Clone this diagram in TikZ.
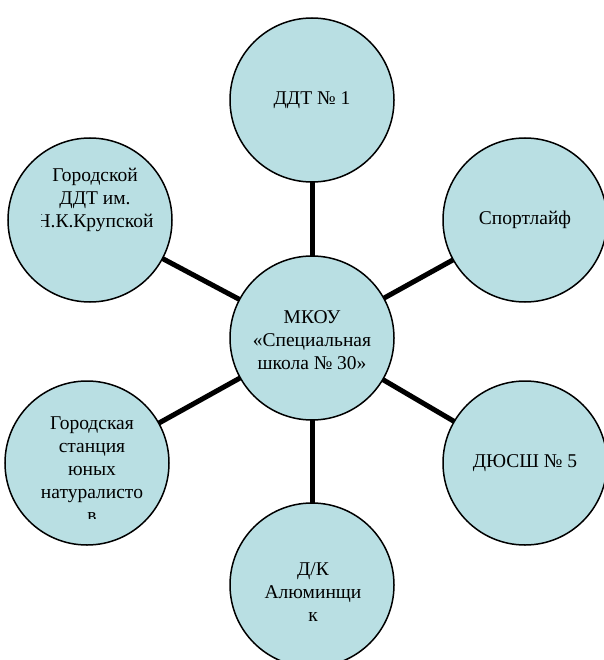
\documentclass[tikz,border=0pt]{standalone}
\usepackage{fontspec}
\setmainfont{Liberation Serif}
\definecolor{cfill}{HTML}{B9DFE3}
\begin{document}
\begin{tikzpicture}[x=1pt,y=-1pt,
  bub/.style={circle,draw=black,line width=1.5pt,fill=cfill,minimum size=164pt,inner sep=0pt,
    align=center,font=\fontsize{19.5}{23}\selectfont},
  txt/.style={align=center,font=\fontsize{19.5}{23}\selectfont,inner sep=0pt},
  spoke/.style={line width=5pt,black}]
\useasboundingbox (0,0) rectangle (603,660);
\coordinate (cC) at (312,338);
\coordinate (cT) at (312,100);
\coordinate (cTR) at (525,220);
\coordinate (cBR) at (525,463);
\coordinate (cB) at (312,585);
\coordinate (cBL) at (87,463);
\coordinate (cTL) at (90,220);
\draw[spoke] (cC) -- (cT);
\draw[spoke] (cC) -- (cTR);
\draw[spoke] (cC) -- (cBR);
\draw[spoke] (cC) -- (cB);
\draw[spoke] (cC) -- (cBL);
\draw[spoke] (cC) -- (cTL);
\node[bub] (T) at (cT) {ДДТ № 1};
\node[bub] (TR) at (cTR) {Спортлайф};
\node[bub] (BR) at (cBR) {ДЮСШ № 5};
\node[bub] (B) at (cB) {};
\node[txt] (Bt) at (313,592) {Д/К\\Алюминщи\\к};
\node[bub] (BL) at (cBL) {};
\node[bub] (TL) at (cTL) {};
\node[bub] (C) at (cC) {};
\node[txt] (Ct) at (312,340) {МКОУ\\«Специальная\\школа № 30»};
\begin{scope}
\clip (41,150) rectangle (156,250);
\node[txt] (TLt) at (95,200) {Городской\\ДДТ им.\\Н.К.Крупской};
\end{scope}
\begin{scope}
\clip (25,400) rectangle (165,518);
\node[txt] (BLt) at (92,469) {Городская\\станция\\юных\\натуралисто\\в};
\end{scope}
\end{tikzpicture}
\end{document}
